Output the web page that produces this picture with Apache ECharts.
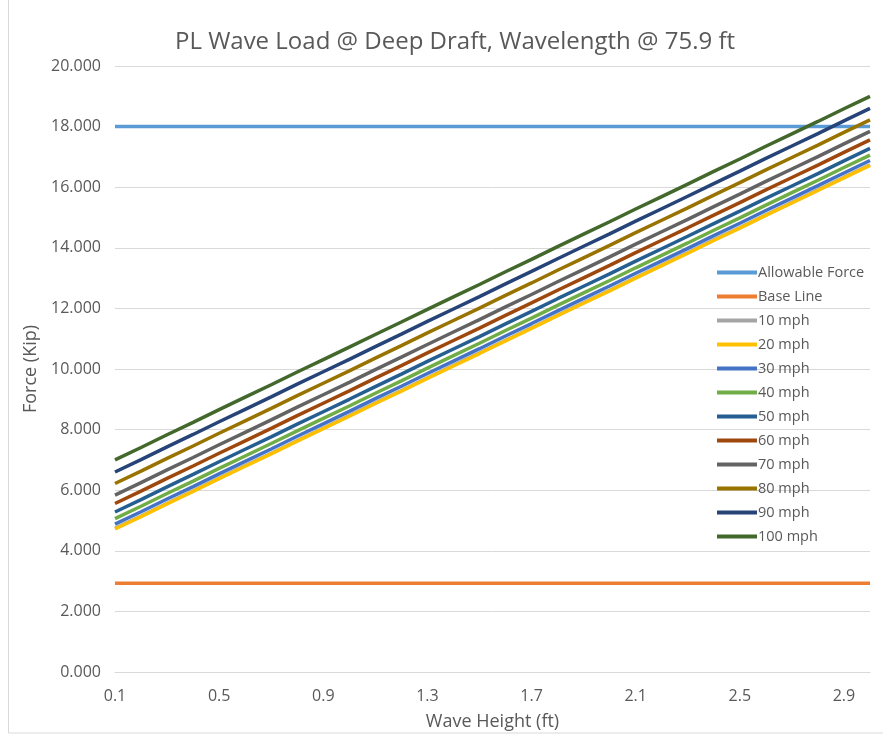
<!DOCTYPE html>
<html>
<head>
<meta charset="utf-8">
<script src="https://cdn.jsdelivr.net/npm/echarts@6/dist/echarts.min.js"></script>
<style>
  html, body { margin: 0; padding: 0; background: #ffffff; }
  #chart { width: 883px; height: 737px; }
</style>
</head>
<body>
<div id="chart"></div>
<script>
// Wave heights (ft)
const waveHeights = ['0.1','0.2','0.3','0.4','0.5','0.6','0.7','0.8','0.9','1.0',
  '1.1','1.2','1.3','1.4','1.5','1.6','1.7','1.8','1.9','2.0',
  '2.1','2.2','2.3','2.4','2.5','2.6','2.7','2.8','2.9','3.0'];

const yTicks = { min: 0, max: 20, interval: 2 };

const allowableForce = [18, 18, 18, 18, 18, 18, 18, 18, 18, 18, 18, 18, 18, 18, 18,
  18, 18, 18, 18, 18, 18, 18, 18, 18, 18, 18, 18, 18, 18, 18];
const baseLine = [2.93, 2.93, 2.93, 2.93, 2.93, 2.93, 2.93, 2.93, 2.93, 2.93, 2.93, 2.93, 2.93, 2.93, 2.93,
  2.93, 2.93, 2.93, 2.93, 2.93, 2.93, 2.93, 2.93, 2.93, 2.93, 2.93, 2.93, 2.93, 2.93, 2.93];

const mph10 = [4.74, 5.15, 5.57, 5.98, 6.40, 6.81, 7.22, 7.64, 8.05, 8.46, 8.88, 9.29, 9.71, 10.12, 10.53,
  10.95, 11.36, 11.78, 12.19, 12.60, 13.02, 13.43, 13.84, 14.26, 14.67, 15.09, 15.50, 15.91, 16.33, 16.74];
const mph20 = [4.72, 5.13, 5.55, 5.96, 6.38, 6.79, 7.20, 7.62, 8.03, 8.44, 8.86, 9.27, 9.69, 10.10, 10.51,
  10.93, 11.34, 11.76, 12.17, 12.58, 13.00, 13.41, 13.82, 14.24, 14.65, 15.07, 15.48, 15.89, 16.31, 16.72];
const mph30 = [4.88, 5.29, 5.71, 6.12, 6.54, 6.95, 7.36, 7.78, 8.19, 8.60, 9.02, 9.43, 9.85, 10.26, 10.67,
  11.09, 11.50, 11.92, 12.33, 12.74, 13.16, 13.57, 13.98, 14.40, 14.81, 15.23, 15.64, 16.05, 16.47, 16.88];
const mph40 = [5.06, 5.47, 5.89, 6.30, 6.72, 7.13, 7.54, 7.96, 8.37, 8.78, 9.20, 9.61, 10.03, 10.44, 10.85,
  11.27, 11.68, 12.10, 12.51, 12.92, 13.34, 13.75, 14.16, 14.58, 14.99, 15.41, 15.82, 16.23, 16.65, 17.06];
const mph50 = [5.28, 5.69, 6.11, 6.52, 6.94, 7.35, 7.76, 8.18, 8.59, 9.00, 9.42, 9.83, 10.25, 10.66, 11.07,
  11.49, 11.90, 12.32, 12.73, 13.14, 13.56, 13.97, 14.38, 14.80, 15.21, 15.63, 16.04, 16.45, 16.87, 17.28];
const mph60 = [5.56, 5.97, 6.39, 6.80, 7.22, 7.63, 8.04, 8.46, 8.87, 9.28, 9.70, 10.11, 10.53, 10.94, 11.35,
  11.77, 12.18, 12.60, 13.01, 13.42, 13.84, 14.25, 14.66, 15.08, 15.49, 15.91, 16.32, 16.73, 17.15, 17.56];
const mph70 = [5.84, 6.25, 6.67, 7.08, 7.50, 7.91, 8.32, 8.74, 9.15, 9.56, 9.98, 10.39, 10.81, 11.22, 11.63,
  12.05, 12.46, 12.88, 13.29, 13.70, 14.12, 14.53, 14.94, 15.36, 15.77, 16.19, 16.60, 17.01, 17.43, 17.84];
const mph80 = [6.22, 6.63, 7.05, 7.46, 7.88, 8.29, 8.70, 9.12, 9.53, 9.94, 10.36, 10.77, 11.19, 11.60, 12.01,
  12.43, 12.84, 13.26, 13.67, 14.08, 14.50, 14.91, 15.32, 15.74, 16.15, 16.57, 16.98, 17.39, 17.81, 18.22];
const mph90 = [6.60, 7.01, 7.43, 7.84, 8.26, 8.67, 9.08, 9.50, 9.91, 10.32, 10.74, 11.15, 11.57, 11.98, 12.39,
  12.81, 13.22, 13.64, 14.05, 14.46, 14.88, 15.29, 15.70, 16.12, 16.53, 16.95, 17.36, 17.77, 18.19, 18.60];
const mph100 = [7.00, 7.41, 7.83, 8.24, 8.66, 9.07, 9.48, 9.90, 10.31, 10.72, 11.14, 11.55, 11.97, 12.38, 12.79,
  13.21, 13.62, 14.04, 14.45, 14.86, 15.28, 15.69, 16.10, 16.52, 16.93, 17.35, 17.76, 18.17, 18.59, 19.00];

const seriesNames = ['Allowable Force', 'Base Line', '10 mph', '20 mph', '30 mph', '40 mph',
  '50 mph', '60 mph', '70 mph', '80 mph', '90 mph', '100 mph'];
const seriesData = [allowableForce, baseLine, mph10, mph20, mph30, mph40,
  mph50, mph60, mph70, mph80, mph90, mph100];
const seriesColors = ['#5B9BD5', '#ED7D31', '#A5A5A5', '#FFC000', '#4472C4', '#70AD47',
  '#255E91', '#9E480E', '#636363', '#997300', '#264478', '#43682B'];

const FONT = '"Open Sans", "Liberation Sans", sans-serif';
const TEXT_COLOR = '#595959';

const chart = echarts.init(document.getElementById('chart'), null, { renderer: 'canvas' });

chart.setOption({
  backgroundColor: '#ffffff',
  animation: false,
  color: seriesColors,
  graphic: [{
    type: 'rect',
    shape: { x: 8.5, y: -10, width: 900, height: 743 },
    style: { fill: 'none', stroke: '#d9d9d9', lineWidth: 1 },
    silent: true
  }, {
    type: 'text',
    x: 455,
    y: 42,
    style: {
      text: 'PL Wave Load @ Deep Draft, Wavelength @ 75.9 ft',
      fontFamily: FONT, fontSize: 24, fill: TEXT_COLOR,
      align: 'center', verticalAlign: 'middle'
    },
    silent: true
  }],
  legend: {
    orient: 'vertical',
    left: 712,
    top: 260,
    icon: 'rect',
    itemWidth: 40,
    itemHeight: 4,
    itemGap: 9,
    textStyle: { fontFamily: FONT, fontSize: 14.5, color: TEXT_COLOR, lineHeight: 14, padding: [0, 0, 0, -4] },
    data: seriesNames
  },
  grid: { left: 115, right: 13, top: 66, bottom: 65, containLabel: false },
  xAxis: {
    type: 'category',
    data: waveHeights,
    boundaryGap: false,
    name: 'Wave Height (ft)',
    nameLocation: 'middle',
    nameGap: 41,
    nameTextStyle: { fontFamily: FONT, fontSize: 18, color: TEXT_COLOR },
    axisLine: { lineStyle: { color: '#d9d9d9', width: 1 } },
    axisTick: { show: false },
    axisLabel: { interval: 3, fontFamily: FONT, fontSize: 16, color: TEXT_COLOR, margin: 16 },
    splitLine: { show: false }
  },
  yAxis: {
    type: 'value',
    min: yTicks.min,
    max: yTicks.max,
    interval: yTicks.interval,
    name: 'Force (Kip)',
    nameLocation: 'middle',
    nameGap: 70,
    nameTextStyle: { fontFamily: FONT, fontSize: 18, color: TEXT_COLOR },
    axisLine: { show: false },
    axisTick: { show: false },
    axisLabel: {
      fontFamily: FONT, fontSize: 16, color: TEXT_COLOR, margin: 14,
      formatter: v => v.toFixed(3)
    },
    splitLine: { lineStyle: { color: '#d9d9d9', width: 1 } }
  },
  series: seriesNames.map((name, i) => ({
    name: name,
    type: 'line',
    data: seriesData[i],
    showSymbol: false,
    symbol: 'none',
    lineStyle: { width: 3.5, color: seriesColors[i] },
    itemStyle: { color: seriesColors[i] },
    emphasis: { disabled: true }
  }))
});
</script>
</body>
</html>
